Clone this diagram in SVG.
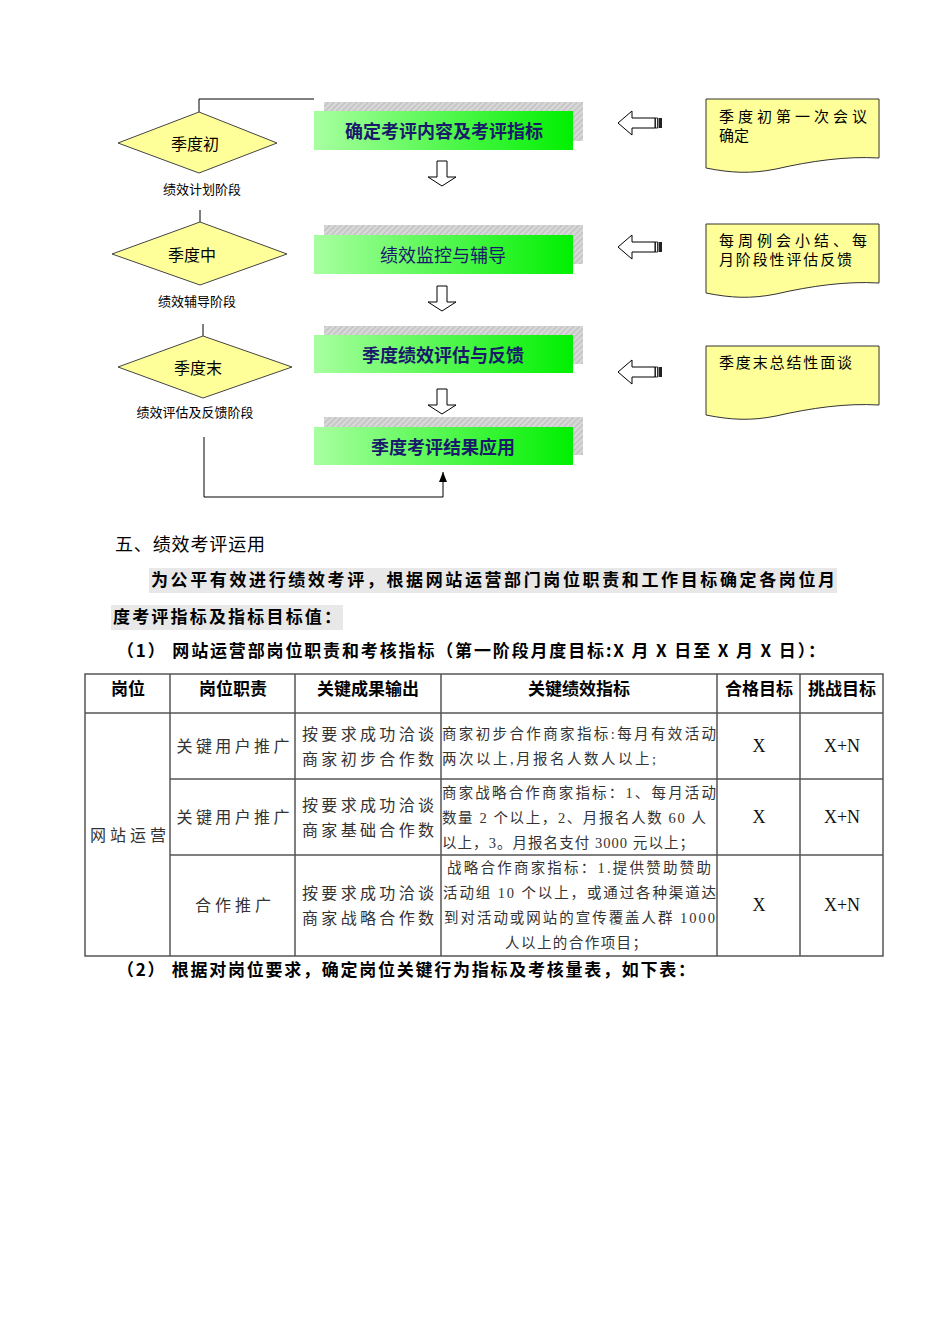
<svg xmlns="http://www.w3.org/2000/svg" width="950" height="1344" viewBox="0 0 950 1344">
<defs>
<linearGradient id="gr" x1="0" y1="0" x2="1" y2="0">
<stop offset="0" stop-color="#a8ffa0"/>
<stop offset="1" stop-color="#00f000"/>
</linearGradient>
<pattern id="hatch" width="4" height="4" patternUnits="userSpaceOnUse" patternTransform="rotate(45)">
<rect width="4" height="4" fill="#d6d6d6"/>
<line x1="0" y1="0" x2="0" y2="4" stroke="#b4b4b4" stroke-width="1.5"/>
</pattern>
<marker id="ah" markerWidth="10" markerHeight="10" refX="10" refY="5" orient="auto" markerUnits="userSpaceOnUse">
<path d="M0,1 L10,5 L0,9 Z" fill="#000"/>
</marker>
<path id="doc" d="M0,0 H173 V59 C140,57 105,62 70,70 C45,75 25,74 0,69 Z"/>
<g id="larrow">
<path d="M0,12 L14,0 L14,7 L37,7 L37,17 L14,17 L14,24 Z" fill="#fff" stroke="#000" stroke-width="1"/>
<rect x="37.5" y="7" width="2" height="10" fill="#fff" stroke="#000" stroke-width="0.8"/>
<rect x="40.5" y="7" width="3.5" height="10" fill="#222"/>
</g>
<path id="darrow" d="M-5,0 H5 V16 H14 L0,25 L-14,16 H-5 Z" fill="#fff" stroke="#000" stroke-width="1"/>
</defs>
<style>
.dia{fill:#ffff99;stroke:#444;stroke-width:1}
.dt{font-family:"Noto Sans CJK SC",sans-serif;font-size:16px;fill:#000;text-anchor:middle}
.lbl{font-family:"Noto Sans CJK SC",sans-serif;font-size:13px;fill:#000;text-anchor:middle}
.gb{fill:url(#gr)}
.sh{fill:url(#hatch)}
.gt{font-family:"Noto Sans CJK SC",sans-serif;font-size:18px;fill:#1a1a6a;text-anchor:middle;font-weight:bold}
.note{fill:#ffff99;stroke:#333;stroke-width:1}
.nt{font-family:"Noto Sans CJK SC",sans-serif;font-size:15px;fill:#000}
.con{fill:none;stroke:#000;stroke-width:1}
.p{font-family:"Noto Sans CJK SC",sans-serif;font-size:18px;fill:#000}
.pb{font-family:"Noto Sans CJK SC",sans-serif;font-size:17px;fill:#000;font-weight:bold}
.tl{stroke:#555;stroke-width:1.5;fill:none}
.th{font-family:"Noto Sans CJK SC",sans-serif;font-size:17px;fill:#000;font-weight:bold;text-anchor:middle}
.td{font-family:"Noto Sans CJK SC",sans-serif;font-size:16px;fill:#333;text-anchor:middle}
.tk{font-family:"Liberation Serif","Noto Sans CJK SC",serif;font-size:14.5px;fill:#333}
.tx{font-family:"Liberation Serif",serif;font-size:18px;fill:#111;text-anchor:middle}
</style>

<g id="connectors">
<path class="con" d="M199,112 V99 H314"/>
<path class="con" d="M200,210 V222"/>
<path class="con" d="M203,324 V336"/>
<path class="con" d="M204,437 V497 H443 V472" marker-end="url(#ah)"/>
<use href="#darrow" x="442" y="161"/>
<use href="#darrow" x="442" y="286"/>
<use href="#darrow" x="442" y="389"/>
<use href="#larrow" x="618" y="111"/>
<use href="#larrow" x="618" y="235"/>
<use href="#larrow" x="618" y="360"/>
</g>

<g id="d1">
<polygon class="dia" points="118,143 199,112 277,143 199,173"/>
<text class="dt" x="195" y="150">季度初</text>
<text class="lbl" x="202" y="194">绩效计划阶段</text>
</g>
<g id="d2">
<polygon class="dia" points="112,254 200,222 287,254 200,285"/>
<text class="dt" x="192" y="261">季度中</text>
<text class="lbl" x="197" y="306">绩效辅导阶段</text>
</g>
<g id="d3">
<polygon class="dia" points="118,367 203,336 292,367 203,398"/>
<text class="dt" x="198" y="374">季度末</text>
<text class="lbl" x="195" y="417">绩效评估及反馈阶段</text>
</g>

<g id="b1">
<rect class="sh" x="324" y="102" width="259" height="39"/>
<rect class="gb" x="314" y="111" width="259" height="39"/>
<text class="gt" x="444" y="138">确定考评内容及考评指标</text>
</g>
<g id="b2">
<rect class="sh" x="324" y="225" width="259" height="39"/>
<rect class="gb" x="314" y="235" width="259" height="39"/>
<text class="gt" x="443" y="262" style="font-weight:normal">绩效监控与辅导</text>
</g>
<g id="b3">
<rect class="sh" x="324" y="326" width="259" height="38"/>
<rect class="gb" x="314" y="335" width="259" height="38"/>
<text class="gt" x="443" y="362">季度绩效评估与反馈</text>
</g>
<g id="b4">
<rect class="sh" x="324" y="417" width="259" height="38"/>
<rect class="gb" x="314" y="427" width="259" height="38"/>
<text class="gt" x="443" y="454">季度考评结果应用</text>
</g>

<g id="n1">
<use href="#doc" x="706" y="99" class="note"/>
<text class="nt" x="719" y="122" textLength="148">季度初第一次会议</text>
<text class="nt" x="719" y="141">确定</text>
</g>
<g id="n2">
<use href="#doc" x="706" y="224" class="note"/>
<text class="nt" x="719" y="246" textLength="148">每周例会小结、每</text>
<text class="nt" x="719" y="265" textLength="133">月阶段性评估反馈</text>
</g>
<g id="n3">
<use href="#doc" x="706" y="346" class="note"/>
<text class="nt" x="719" y="368" textLength="133">季度末总结性面谈</text>
</g>

<g id="para">
<text class="p" x="115" y="551" font-size="17" textLength="150">五、绩效考评运用</text>
<rect x="149" y="568" width="688" height="25" fill="#e8e8e8"/>
<rect x="111" y="605" width="232" height="25" fill="#e8e8e8"/>
<text class="pb" x="151" y="586" textLength="684" font-size="18">为公平有效进行绩效考评，根据网站运营部门岗位职责和工作目标确定各岗位月</text>
<text class="pb" x="113" y="623" textLength="228" font-size="18">度考评指标及指标目标值：</text>
<text class="pb" x="117" y="657" textLength="708">（1） 网站运营部岗位职责和考核指标（第一阶段月度目标:X 月 X 日至 X 月 X 日）：</text>
<text class="pb" x="117" y="976" textLength="578">（2） 根据对岗位要求，确定岗位关键行为指标及考核量表，如下表：</text>
</g>

<g id="table">
<rect class="tl" x="85" y="674" width="798" height="282"/>
<path class="tl" d="M85,713 H883 M170,779 H883 M170,855 H883 M170,674 V956 M295,674 V956 M441,674 V956 M717,674 V956 M800,674 V956"/>
<text class="th" x="128" y="695">岗位</text>
<text class="th" x="233" y="695">岗位职责</text>
<text class="th" x="368" y="695">关键成果输出</text>
<text class="th" x="579" y="695">关键绩效指标</text>
<text class="th" x="759" y="695">合格目标</text>
<text class="th" x="842" y="695">挑战目标</text>

<text class="td" x="128" y="841" textLength="76">网站运营</text>

<text class="td" x="233" y="752" textLength="113">关键用户推广</text>
<text class="td" x="368" y="740" textLength="132">按要求成功洽谈</text>
<text class="td" x="368" y="765" textLength="132">商家初步合作数</text>
<text class="tk" x="442" y="739" textLength="274">商家初步合作商家指标:每月有效活动</text>
<text class="tk" x="442" y="764" textLength="214">两次以上,月报名人数人以上;</text>
<text class="tx" x="759" y="752">X</text>
<text class="tx" x="842" y="752">X+N</text>

<text class="td" x="233" y="823" textLength="113">关键用户推广</text>
<text class="td" x="368" y="811" textLength="132">按要求成功洽谈</text>
<text class="td" x="368" y="836" textLength="132">商家基础合作数</text>
<text class="tk" x="442" y="798" textLength="274">商家战略合作商家指标：1、每月活动</text>
<text class="tk" x="442" y="823" textLength="264">数量 2 个以上，2、月报名人数 60 人</text>
<text class="tk" x="442" y="848" textLength="252">以上，3。月报名支付 3000 元以上；</text>
<text class="tx" x="759" y="823">X</text>
<text class="tx" x="842" y="823">X+N</text>

<text class="td" x="233" y="911" textLength="76">合作推广</text>
<text class="td" x="368" y="899" textLength="132">按要求成功洽谈</text>
<text class="td" x="368" y="924" textLength="132">商家战略合作数</text>
<text class="tk" x="447" y="873" textLength="264">战略合作商家指标：1.提供赞助赞助</text>
<text class="tk" x="443" y="898" textLength="273">活动组 10 个以上，或通过各种渠道达</text>
<text class="tk" x="444" y="923" textLength="271">到对活动或网站的宣传覆盖人群 1000</text>
<text class="tk" x="505" y="948" textLength="142">人以上的合作项目；</text>
<text class="tx" x="759" y="911">X</text>
<text class="tx" x="842" y="911">X+N</text>
</g>
</svg>
